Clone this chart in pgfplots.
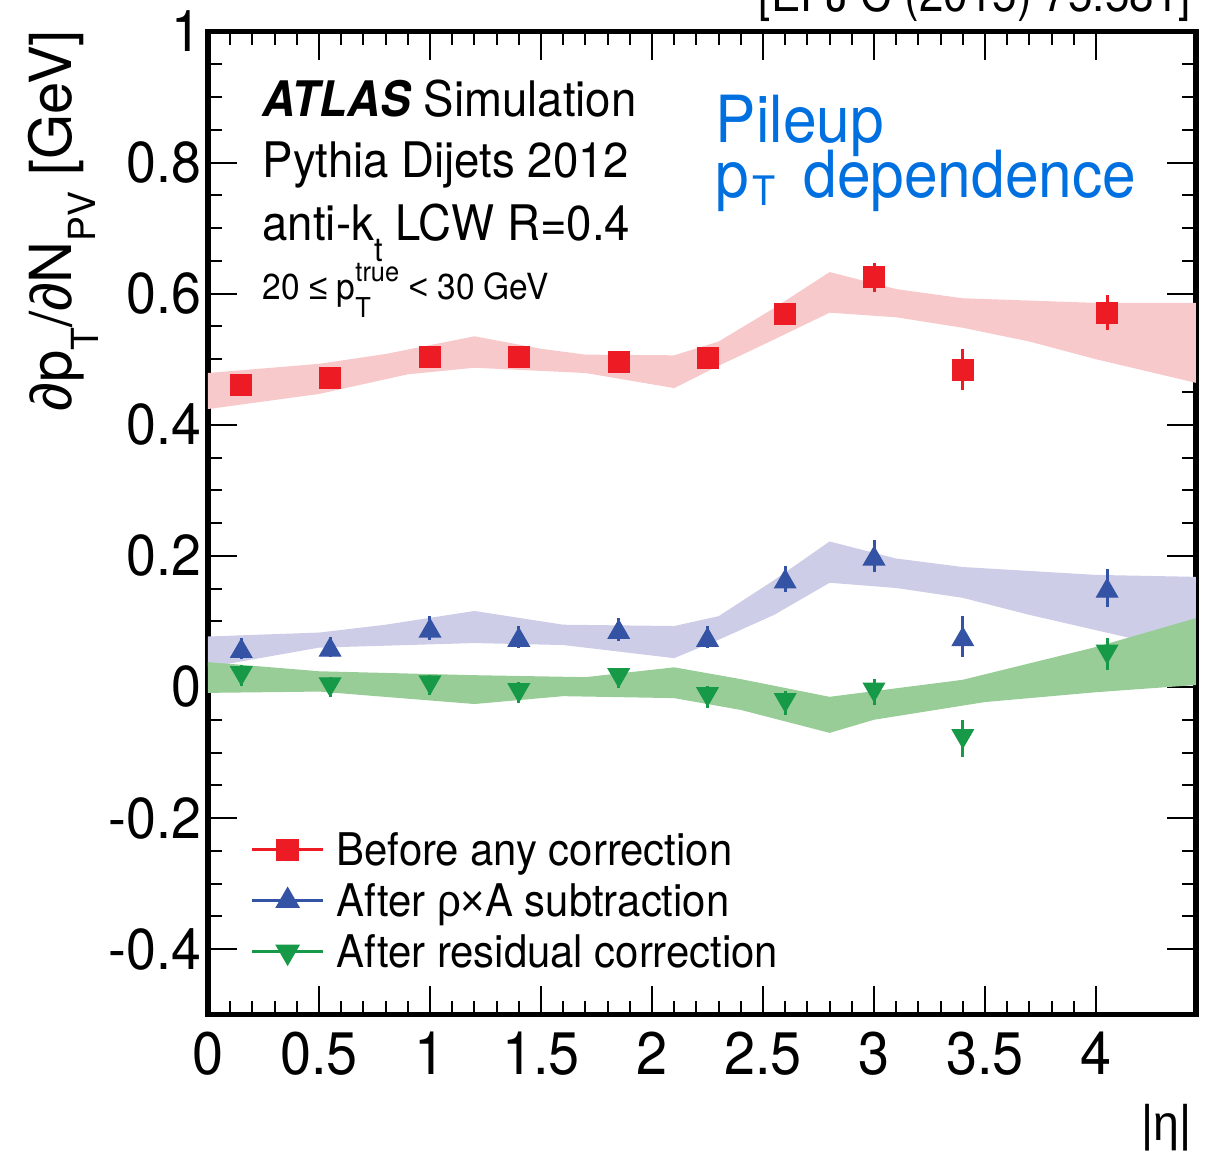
\documentclass[border=0pt]{standalone}
\usepackage{pgfplots}
\pgfplotsset{compat=1.18}
\usepackage{fontspec}
\setmainfont{TeX Gyre Heros}[FakeStretch=0.93]
\newfontfamily\hvrot{TeX Gyre Heros}
\newfontfamily\symf{Liberation Sans}[FakeStretch=0.93]
\newfontfamily\symrot{Liberation Sans}
\newcommand\fs[1]{\fontsize{#1}{#1}\selectfont}

\definecolor{redmk}{RGB}{237,28,36}
\definecolor{redband}{RGB}{248,201,203}
\definecolor{bluemk}{RGB}{52,83,164}
\definecolor{blueband}{RGB}{206,205,232}
\definecolor{greenmk}{RGB}{22,154,72}
\definecolor{greenband}{RGB}{152,205,152}
\definecolor{pileblue}{RGB}{0,112,224}

% eta, slope, stat. uncertainty
\pgfplotstableread{
x    y      ey
0.15 0.461  0.017
0.55 0.471  0.017
1.00 0.503  0.017
1.40 0.503  0.017
1.85 0.496  0.017
2.25 0.502  0.017
2.60 0.569  0.017
3.00 0.625  0.022
3.40 0.484  0.031
4.05 0.571  0.027
}\beforecorr
\pgfplotstableread{
x    y      ey
0.15 0.059  0.016
0.55 0.061  0.015
1.00 0.090  0.018
1.40 0.076  0.017
1.85 0.088  0.018
2.25 0.076  0.017
2.60 0.165  0.020
3.00 0.200  0.024
3.40 0.077  0.032
4.05 0.151  0.029
}\afterrhoA
\pgfplotstableread{
x    y      ey
0.15 0.017  0.016
0.55 0.000  0.015
1.00 0.003  0.015
1.40 -0.009 0.016
1.85 0.014  0.015
2.25 -0.015 0.017
2.60 -0.024 0.018
3.00 -0.008 0.020
3.40 -0.079 0.028
4.05 0.050  0.024
}\afterresid

\pgfplotsset{
  rowimg/.style={legend image code/.code={%
    \draw[##1,mark=none] (0pt,0pt) -- (21.3pt,0pt);
    \draw[##1,only marks] plot coordinates {(10.65pt,0pt)};}},
  errstyle/.style={error bars/.cd, y dir=both, y explicit, error mark=none,
    error bar style={line width=0.9pt, color=#1}},
}

\begin{document}
\begin{tikzpicture}[every node/.append style={inner sep=0pt}]
\begin{axis}[
  at={(0,0)}, anchor=south west,
  scale only axis, width=296.37pt, height=294.975pt,
  xmin=0, xmax=4.45, ymin=-0.5, ymax=1,
  clip=false,
  axis line style={line width=1.6pt},
  tick align=inside, tick pos=both, ticklabel pos=left,
  xtick={0,0.5,1,1.5,2,2.5,3,3.5,4}, minor x tick num=4,
  ytick={-0.4,-0.2,0,0.2,0.4,0.6,0.8,1}, minor y tick num=3,
  major tick length=8.7pt, minor tick length=4.2pt,
  every tick/.style={line width=0.6pt, black},
  /pgf/number format/assume math mode=true,
  xticklabel style={font=\fs{18}, inner sep=0pt, yshift=-5.1pt},
  yticklabel style={font=\fs{17.3}, inner sep=0pt, xshift=-1.8pt},
  legend cell align=left,
  legend style={at={(0.0425,0.1849)}, anchor=north west, draw=none, fill=none,
    inner sep=0pt, font=\fs{13.5}, row sep=5.58pt, column sep=3.6pt,
    nodes={inner sep=0pt, text height=9.72pt, text depth=0pt}},
]
% systematic bands
\addplot[fill=redband, draw=none, forget plot] coordinates {
 (0,0.479) (0.5,0.493) (0.8,0.508) (1.2,0.535) (1.5,0.516) (1.7,0.507) (2.1,0.506)
 (2.3,0.527) (2.55,0.578) (2.8,0.633) (3.1,0.607) (3.4,0.593) (4.0,0.586) (4.45,0.586)
 (4.45,0.464) (4.0,0.500) (3.7,0.527) (3.4,0.548) (3.1,0.564) (2.8,0.571) (2.5,0.522)
 (2.3,0.490) (2.1,0.456) (1.7,0.479) (1.2,0.487) (0.9,0.477) (0.5,0.447) (0,0.424)};
\addplot[fill=blueband, draw=none, forget plot] coordinates {
 (0,0.077) (0.5,0.083) (0.8,0.095) (1.2,0.116) (1.6,0.095) (2.1,0.093) (2.3,0.108)
 (2.55,0.163) (2.8,0.222) (3.1,0.196) (3.4,0.183) (4.0,0.171) (4.45,0.168)
 (4.45,0.05) (4.15,0.075) (3.7,0.11) (3.4,0.136) (3.1,0.151) (2.8,0.159) (2.55,0.11)
 (2.3,0.072) (2.1,0.044) (1.6,0.064) (1.2,0.067) (0.5,0.06) (0,0.03)};
\addplot[fill=greenband, draw=none, forget plot] coordinates {
 (0,0.038) (0.5,0.024) (1.2,0.018) (1.7,0.015) (2.1,0.03) (2.4,0.012) (2.8,-0.015)
 (3.4,0.011) (4.0,0.061) (4.45,0.105)
 (4.45,0.003) (4.0,-0.008) (3.5,-0.023) (3.0,-0.05) (2.8,-0.07) (2.4,-0.035)
 (2.1,-0.017) (1.6,-0.014) (1.2,-0.026) (0.5,-0.007) (0,-0.009)};

% points with statistical errors
\addplot[only marks, forget plot, color=redmk, mark=square*, mark size=3.1pt,
  errstyle=redmk] table[x=x, y=y, y error=ey] {\beforecorr};
\addplot[only marks, forget plot, color=bluemk, mark=triangle*, mark size=3.6pt,
  mark options={yshift=-0.9pt}, errstyle=bluemk] table[x=x, y=y, y error=ey] {\afterrhoA};
\addplot[only marks, forget plot, color=greenmk, mark=triangle*, mark size=3.6pt,
  mark options={yshift=0.9pt, rotate=180}, errstyle=greenmk] table[x=x, y=y, y error=ey] {\afterresid};

\addlegendimage{rowimg, color=redmk, line width=0.9pt, mark=square*, mark size=2.9pt}
\addlegendentry{Before any correction}
\addlegendimage{rowimg, color=bluemk, line width=0.9pt, mark=triangle*, mark size=3.4pt}
\addlegendentry{After {\symf ρ×}A subtraction}
\addlegendimage{rowimg, color=greenmk, line width=0.9pt, mark=triangle*, mark size=3.4pt, mark options={rotate=180}}
\addlegendentry{After residual correction}

% labels
\node[anchor=base west, font=\fs{14.7}] at (axis cs:0.243,0.8696) {\textbf{\textit{ATLAS}} Simulation};
\node[anchor=base west, font=\fs{14.7}] at (axis cs:0.243,0.7765) {Pythia Dijets 2012};
\node[anchor=base west, font=\fs{14.7}] at (axis cs:0.243,0.6804) {anti-k\raisebox{-0.42em}{\fs{10}t} LCW R=0.4};
\node[anchor=base west, font=\fs{10.8}] at (axis cs:0.243,0.5904)
  {20 {\symf ≤} p\makebox[0pt][l]{\raisebox{-0.5em}{\fs{8.2}T}}\raisebox{0.5em}{\fs{8.2}true} {\symf <} 30 GeV};
\node[anchor=base west, font=\fs{19.5}, text=pileblue] at (axis cs:2.285,0.8314) {Pileup};
\node[anchor=base west, font=\fs{19.5}, text=pileblue] at (axis cs:2.285,0.746)
  {p\hspace{0.8pt}\raisebox{-0.11em}{\fs{12.2}T}\hspace{3.4pt} dependence};
\node[anchor=base east, font=\fs{14.2}] at (axis cs:4.43,1.031) {[EPJ C (2015) 75:581]};
\node[xshift=-40.8pt, yshift=0.6pt, rotate=90, anchor=base east, font={\hvrot\fs{17.4}}]
  at (rel axis cs:0,1)
  {{\symrot ∂}p\raisebox{-8pt}{\fs{11.2}T}/{\symrot ∂}N\raisebox{-7pt}{\fs{11.2}PV} [GeV]};
\node[anchor=base east, font=\fs{15}, xshift=-1.2pt, yshift=-37.6pt] at (rel axis cs:1,0) {{\symf |η|}};
\end{axis}
\pgfresetboundingbox
\path[use as bounding box] (-62.4pt,-42.975pt) rectangle (302.4pt,304.425pt);
\end{tikzpicture}
\end{document}
